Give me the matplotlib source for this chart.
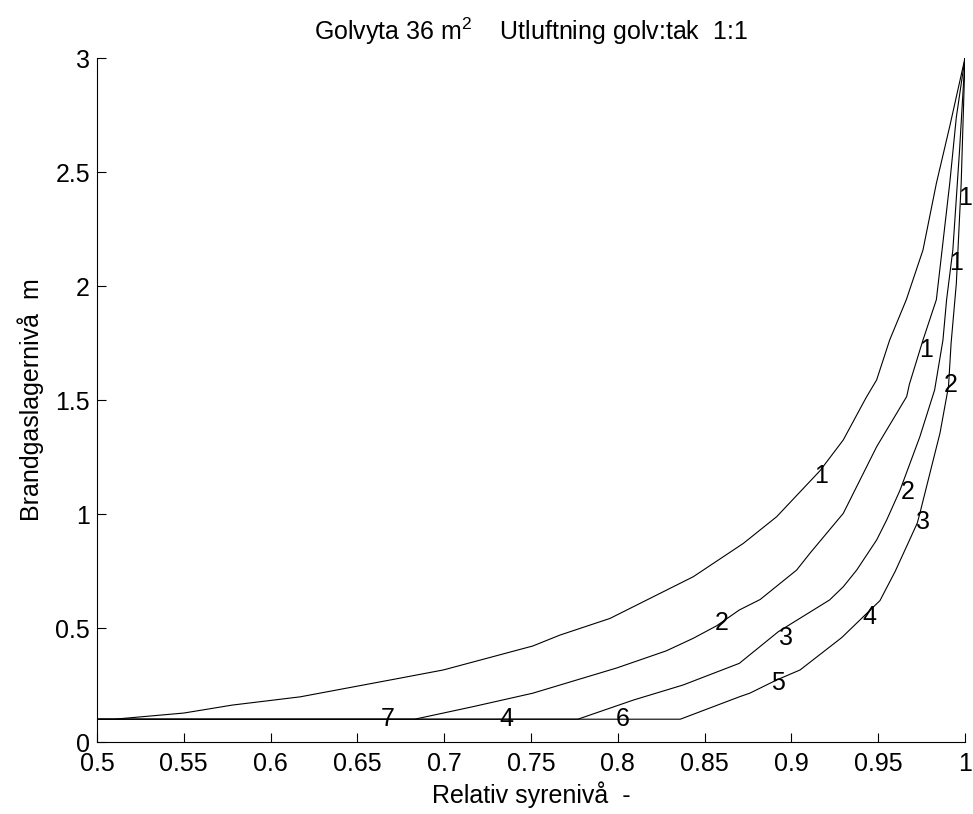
import matplotlib
matplotlib.use('Agg')
import matplotlib.pyplot as plt

plt.rcParams['font.family'] = ['Liberation Sans', 'DejaVu Sans']
plt.rcParams['mathtext.fontset'] = 'custom'
plt.rcParams['mathtext.rm'] = 'Liberation Sans'
plt.rcParams['mathtext.it'] = 'Liberation Sans'

# curve data: relative oxygen level (x) vs smoke layer height (y)
curve1_x = [1.0, 0.9912, 0.9835, 0.9758, 0.9662, 0.9566, 0.9491, 0.943, 0.9299, 0.9165,
            0.8915, 0.8723, 0.8435, 0.7955, 0.7667, 0.751, 0.6995, 0.6745, 0.617, 0.578,
            0.55, 0.51, 0.5]
curve1_y = [3.0, 2.70, 2.45, 2.158, 1.94, 1.763, 1.588, 1.51, 1.325, 1.19,
            0.988, 0.871, 0.725, 0.542, 0.469, 0.421, 0.316, 0.28, 0.198, 0.162,
            0.127, 0.1, 0.1]

curve2_x = [1.0, 0.995, 0.9912, 0.9835, 0.9758, 0.968, 0.9664, 0.9491, 0.9299, 0.9107,
            0.903, 0.882, 0.870, 0.857, 0.8435, 0.828, 0.7995, 0.751, 0.7166, 0.683, 0.5]
curve2_y = [3.0, 2.74, 2.45, 1.94, 1.763, 1.57, 1.515, 1.295, 1.003, 0.828,
            0.754, 0.625, 0.579, 0.51, 0.455, 0.40, 0.325, 0.214, 0.155, 0.1, 0.1]

curve3_x = [1.0, 0.9969, 0.993, 0.9894, 0.9873, 0.9825, 0.974, 0.9626, 0.9549, 0.9491,
            0.9376, 0.9299, 0.922, 0.8925, 0.870, 0.8376, 0.809, 0.777, 0.5]
curve3_y = [3.0, 2.6, 2.158, 1.94, 1.763, 1.544, 1.339, 1.105, 0.974, 0.886,
            0.754, 0.681, 0.623, 0.484, 0.345, 0.25, 0.184, 0.1, 0.1]

curve4_x = [1.0, 0.9978, 0.995, 0.992, 0.9905, 0.9856, 0.974, 0.9725, 0.9597, 0.951,
            0.929, 0.905, 0.8915, 0.876, 0.8703, 0.836, 0.5]
curve4_y = [3.0, 2.45, 2.01, 1.75, 1.56, 1.355, 1.003, 0.96, 0.747, 0.62,
            0.458, 0.316, 0.272, 0.214, 0.199, 0.1, 0.1]

# time labels along the curves (minutes)
label_x = [0.9168, 0.9775, 0.9948, 1.0, 0.8598, 0.967, 0.992, 0.897, 0.976,
           0.945, 0.892, 0.803, 0.736, 0.6676]
label_y = [1.167, 1.72, 2.10, 2.385, 0.52, 1.098, 1.566, 0.455, 0.966,
           0.55, 0.258, 0.1, 0.1, 0.1]
label_txt = ['1', '1', '1', '1', '2', '2', '2', '3', '3',
             '4', '5', '6', '4', '7']

x_ticks = [0.5, 0.55, 0.6, 0.65, 0.7, 0.75, 0.8, 0.85, 0.9, 0.95, 1.0]
x_ticklabels = ['0.5', '0.55', '0.6', '0.65', '0.7', '0.75', '0.8', '0.85', '0.9', '0.95', '1']
y_ticks = [0, 0.5, 1, 1.5, 2, 2.5, 3]
y_ticklabels = ['0', '0.5', '1', '1.5', '2', '2.5', '3']

fig = plt.figure(figsize=(9.73, 8.14), dpi=100)
ax = fig.add_axes([97 / 973, 72 / 814, 868 / 973, 684 / 814])

for cx, cy in [(curve1_x, curve1_y), (curve2_x, curve2_y),
               (curve3_x, curve3_y), (curve4_x, curve4_y)]:
    ax.plot(cx, cy, color='black', linewidth=0.8)

for lx, ly, lt in zip(label_x, label_y, label_txt):
    ax.text(lx, ly, lt, fontsize=18, ha='center', va='center')

ax.set_xlim(0.5, 1.0)
ax.set_ylim(0, 3)
ax.set_xticks(x_ticks)
ax.set_xticklabels(x_ticklabels)
ax.set_yticks(y_ticks)
ax.set_yticklabels(y_ticklabels)
ax.tick_params(direction='in', length=6.5, width=0.8, labelsize=18)
ax.tick_params(axis='x', pad=7)
ax.tick_params(axis='y', pad=5)

ax.spines['top'].set_visible(False)
ax.spines['right'].set_visible(False)
ax.spines['left'].set_linewidth(0.8)
ax.spines['bottom'].set_linewidth(0.8)

ax.set_xlabel('Relativ syrenivå  -', fontsize=18, labelpad=4)
ax.set_ylabel('Brandgaslagernivå  m', fontsize=18, labelpad=8)
ax.set_title('Golvyta 36 m$^2$    Utluftning golv:tak  1:1', fontsize=18, pad=13)

fig.savefig('out.png', dpi=100)
